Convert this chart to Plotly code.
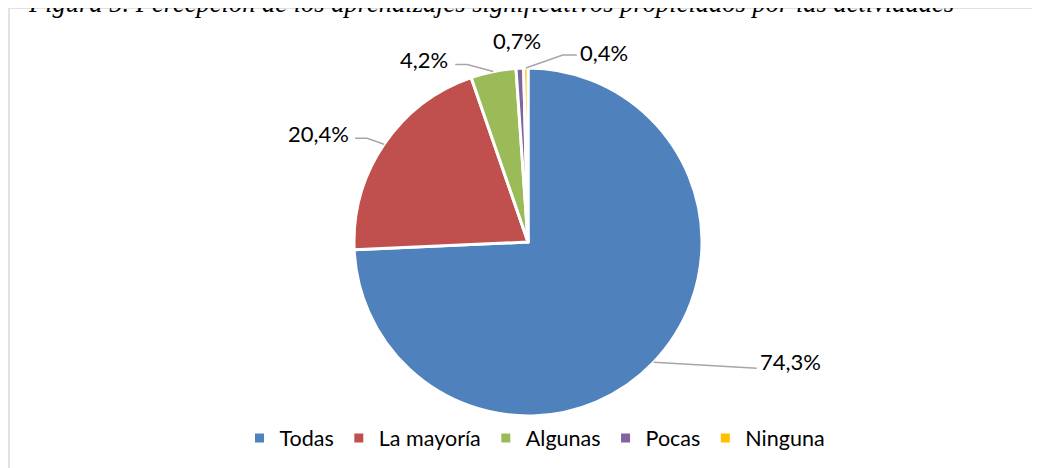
import math
import plotly.graph_objects as go

# ---- data ----
categories = ["Todas", "La mayoría", "Algunas", "Pocas", "Ninguna"]
values = [74.3, 20.4, 4.2, 0.7, 0.4]
colors = ["#4F81BD", "#C0504D", "#9BBB59", "#8064A2", "#FFC000"]
title_text = "Figura 5. Percepción de los aprendizajes significativos propiciados por las actividades"

W, H = 1040, 468
OFF = 8                     # page body margin offset (screen px -> figure px)
CX, CY, R = 528, 242, 174   # pie centre / radius in screen px (layout)

FONT = "Lato"


def px(x):
    return (x - OFF) / W


def py(y):
    return 1 - (y - OFF) / H


fig = go.Figure()
fig.add_trace(go.Pie(
    labels=categories,
    values=values,
    sort=False,
    direction="clockwise",
    rotation=0,
    textinfo="none",
    hoverinfo="label+percent",
    marker=dict(colors=colors, line=dict(color="white", width=3)),
    domain=dict(x=[px(CX - R), px(CX + R)], y=[py(CY + R), py(CY - R)]),
))

# label layout: line point offsets from slice edge point, text offset, anchor
label_layout = [
    dict(pts=[(0, 0), (103, 6)], txt=(104, -1), anchor="left"),
    dict(pts=[(0, 0), (-17, -6), (-29, -6)], txt=(-33, -11), anchor="right"),
    dict(pts=[(0, 0), (-26, -7), (-38, -7)], txt=(-43, -12), anchor="right"),
    dict(pts=[], txt=(-3, -28), anchor="center"),
    dict(pts=[(0, 0), (37, -13), (51, -13)], txt=(52, -16), anchor="left"),
]

total = sum(values)
shapes = []
annotations = []
cum = 0.0
for v, lay in zip(values, label_layout):
    mid = (cum + v / 2) / total * 2 * math.pi
    cum += v
    sx = CX + R * math.sin(mid)
    sy = CY - R * math.cos(mid)
    if lay["pts"]:
        path = " ".join(
            ("M" if i == 0 else "L") + f"{px(sx + dx):.5f},{py(sy + dy):.5f}"
            for i, (dx, dy) in enumerate(lay["pts"])
        )
        shapes.append(dict(type="path", xref="paper", yref="paper", path=path,
                           line=dict(color="#A6A6A6", width=1.5)))
    tx, ty = lay["txt"]
    annotations.append(dict(
        x=px(sx + tx), y=py(sy + ty), xref="paper", yref="paper",
        text=f"{v:.1f}".replace(".", ",") + "%", showarrow=False,
        xanchor=lay["anchor"], yanchor="middle",
        font=dict(family=FONT, size=22, color="#000000"),
    ))

# chart frame
shapes.append(dict(type="rect", xref="paper", yref="paper",
                   x0=px(9), x1=px(W + 40), y0=py(H + 40), y1=py(8),
                   line=dict(color="#D9D9D9", width=1.5), fillcolor="rgba(0,0,0,0)",
                   layer="below"))

# clipped caption at top
annotations.append(dict(
    x=px(26), y=py(3), xref="paper", yref="paper", text="<i>" + title_text + "</i>",
    showarrow=False, xanchor="left", yanchor="middle",
    font=dict(family="Liberation Serif", size=26.5, color="#000000"),
))

fig.update_layout(
    width=W, height=H,
    margin=dict(l=0, r=0, t=0, b=0),
    paper_bgcolor="white",
    plot_bgcolor="white",
    showlegend=True,
    legend=dict(orientation="h", x=px(535), xanchor="center", y=py(438), yanchor="middle",
                font=dict(family=FONT, size=21.5, color="#000000"),
                itemwidth=30, traceorder="normal"),
    shapes=shapes,
    annotations=annotations,
)

fig.write_html("out.html")
